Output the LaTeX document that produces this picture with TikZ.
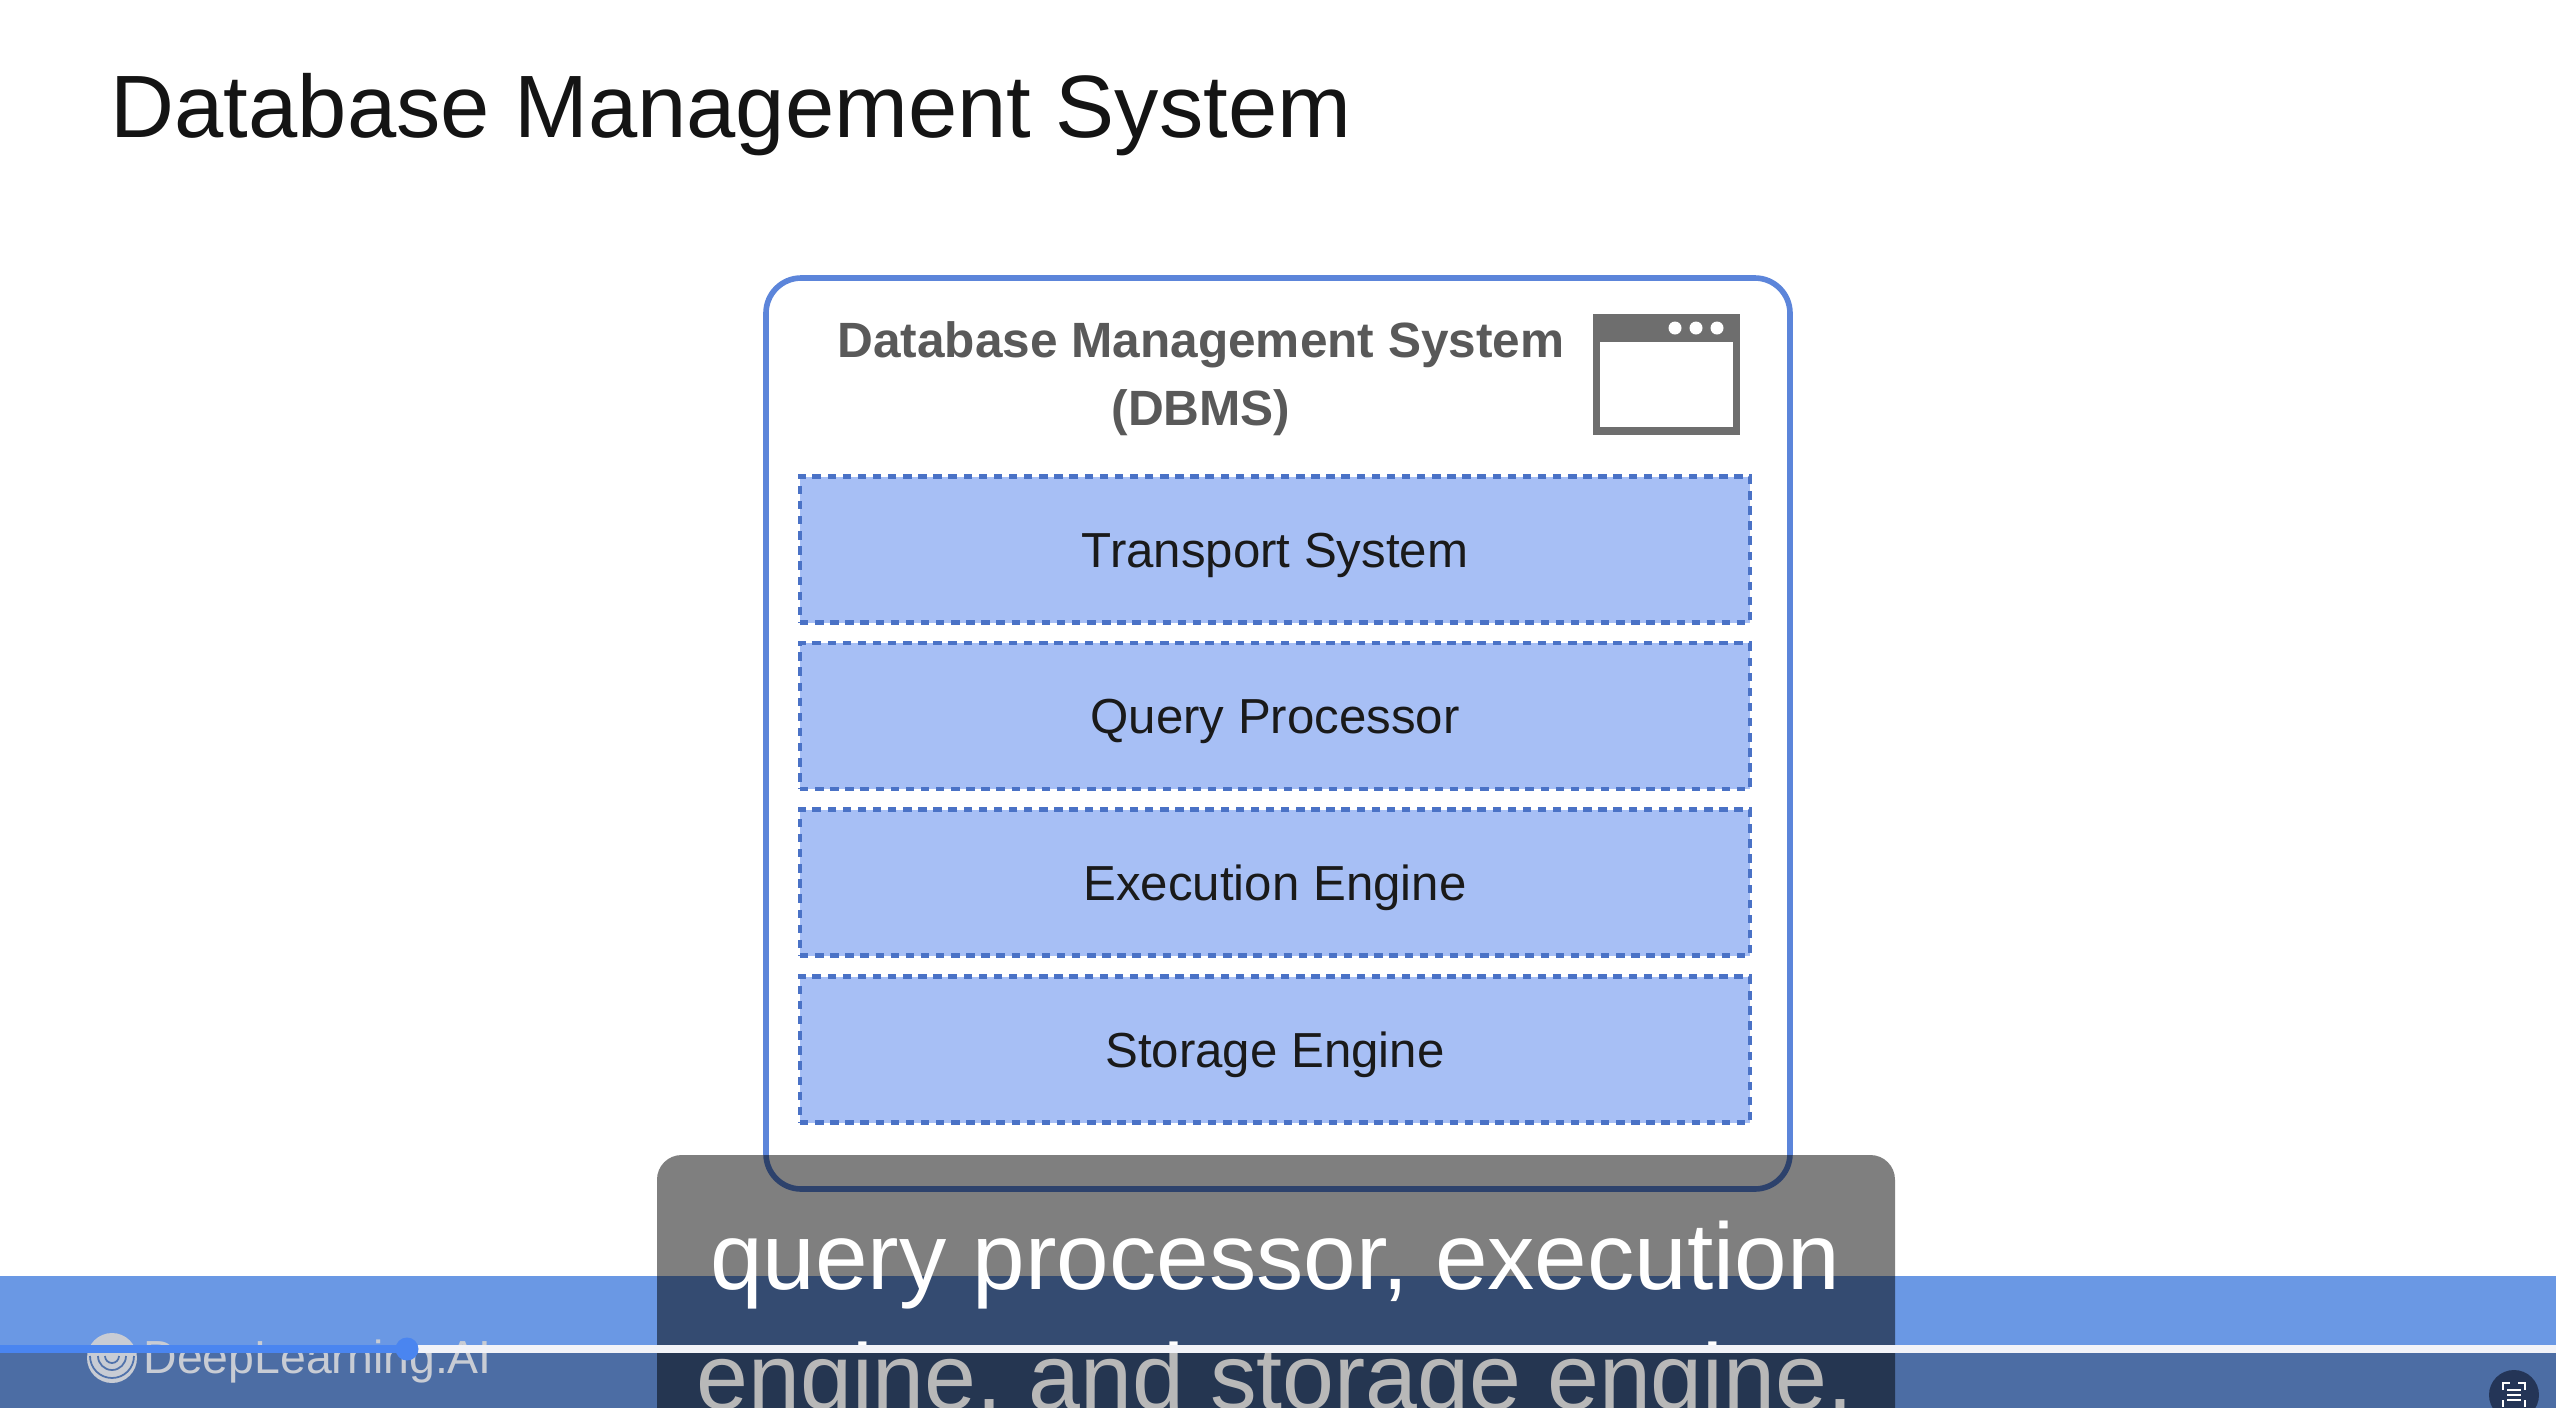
\documentclass[tikz,border=0pt]{standalone}
\usepackage{fontspec}
\setmainfont{Liberation Sans}
\usepackage[HTML]{xcolor}
\definecolor{bandblue}{HTML}{6A98E4}
\definecolor{framelinecol}{HTML}{5C85DA}
\definecolor{layerfill}{HTML}{A7BFF5}
\definecolor{layerline}{HTML}{4A72C6}
\definecolor{iconcol}{HTML}{6E6E6E}
\definecolor{logocol}{HTML}{C8CCD4}
\definecolor{barwhite}{HTML}{F2F3F8}
\definecolor{barblue}{HTML}{4A85F0}
\definecolor{ccbutton}{HTML}{243557}

\begin{document}
\begin{tikzpicture}[
  framebox/.style={draw=framelinecol,line width=1.6pt,rounded corners=10pt,minimum width=10.24cm,minimum height=9.11cm,inner sep=0pt,outer sep=0pt},
  layerbox/.style={draw=layerline,fill=layerfill,line width=1.3pt,dash pattern=on 2.4pt off 1.9pt,minimum width=9.5cm,minimum height=1.46cm,inner sep=0pt,outer sep=0pt,font=\fontsize{14}{17}\selectfont,text=black!90,text height=10.2pt,text depth=0pt},
  headtext/.style={font=\bfseries\fontsize{14.1}{19.3}\selectfont,text=black!65,align=center,inner sep=0pt},
  captext/.style={font=\fontsize{26.9}{32}\selectfont,text=white,anchor=base,inner sep=0pt}
]
\clip (0,0) rectangle (25.56,-14.08);
\fill[white] (0,0) rectangle (25.56,-14.08);
% page title
\node[anchor=base west,inner sep=0pt,font=\fontsize{25.2}{30}\selectfont,text=black!92] (pagetitle) at (1.10,-1.37) {Database Management System};
% dbms box
\node[framebox] (dbms) at (12.78,-7.335) {};
\node[headtext] (dbmshead) at (12.01,-3.785) {Database Management System\\(DBMS)};
% window icon
\draw[iconcol,line width=2pt] (15.965,-3.175) rectangle (17.365,-4.31);
\fill[iconcol] (15.93,-3.14) rectangle (17.40,-3.42);
\fill[white] (16.75,-3.28) circle (0.065);
\fill[white] (16.96,-3.28) circle (0.065);
\fill[white] (17.17,-3.28) circle (0.065);
% layers
\node[layerbox] (transport) at (12.75,-5.495) {Transport System};
\node[layerbox] (query) at (12.75,-7.16) {Query Processor};
\node[layerbox] (execution) at (12.75,-8.825) {Execution Engine};
\node[layerbox] (storage) at (12.75,-10.495) {Storage Engine};
% video band and caption
\fill[bandblue] (0,-12.76) rectangle (25.56,-14.08);
\fill[black,opacity=0.5,rounded corners=7pt] (6.57,-11.55) rectangle (18.95,-14.5);
\node[captext] (capone) at (12.75,-12.895) {query processor, execution};
\node[captext,font=\fontsize{26.55}{32}\selectfont] (captwo) at (12.75,-14.09) {engine, and storage engine.};
\fill[black,opacity=0.28] (0,-13.53) rectangle (25.56,-14.08);
% logo
\fill[logocol] (1.12,-13.58) circle (0.25);
\draw[bandblue!75!black,line width=0.5pt] (0.98,-13.56) arc (180:360:0.14);
\draw[bandblue!75!black,line width=0.5pt] (0.90,-13.56) arc (180:360:0.22);
\draw[bandblue!75!black,line width=0.5pt] (1.05,-13.56) arc (180:360:0.07);
\node[anchor=base west,inner sep=0pt,font=\fontsize{13.2}{16}\selectfont,text=logocol] (logotext) at (1.43,-13.73) {DeepLearning.AI};
% progress bar
\fill[barwhite] (0,-13.45) rectangle (25.56,-13.53);
\fill[barblue] (0,-13.45) rectangle (4.07,-13.53);
\fill[barblue] (4.07,-13.49) circle (0.115);
% caption button
\fill[ccbutton] (25.14,-13.95) circle (0.25);
\draw[white,line width=0.35pt] (25.03,-13.90) -- (25.03,-13.83) -- (25.10,-13.83) (25.18,-13.83) -- (25.25,-13.83) -- (25.25,-13.90)
  (25.03,-14.00) -- (25.03,-14.07) (25.25,-14.00) -- (25.25,-14.07);
\draw[white,line width=0.35pt] (25.07,-13.90) -- (25.21,-13.90) (25.07,-13.95) -- (25.21,-13.95) (25.07,-14.00) -- (25.21,-14.00);
\end{tikzpicture}
\end{document}
